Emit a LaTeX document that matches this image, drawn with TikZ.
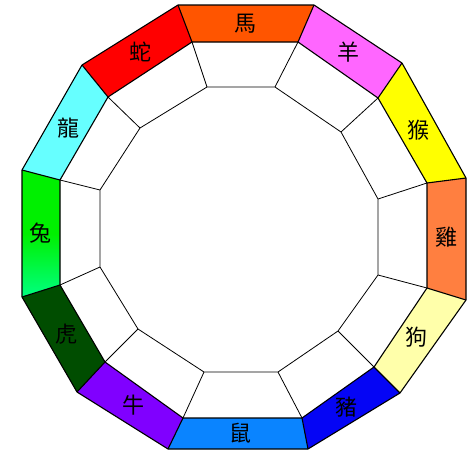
\documentclass[tikz,border=0pt]{standalone}
\usepackage{fontspec}
\newfontfamily\cjk{Noto Sans CJK TC}
\usetikzlibrary{calc}
\definecolor{cHorse}{HTML}{FF5500}
\definecolor{cGoat}{HTML}{FF66FF}
\definecolor{cMonkey}{HTML}{FFFF00}
\definecolor{cRooster}{HTML}{FF7F40}
\definecolor{cDog}{HTML}{FFFFAA}
\definecolor{cPig}{HTML}{0505F5}
\definecolor{cRat}{HTML}{0A84FF}
\definecolor{cOx}{HTML}{8000FF}
\definecolor{cTiger}{HTML}{004D00}
\definecolor{cRabbitA}{HTML}{00F000}
\definecolor{cRabbitB}{HTML}{00FF80}
\definecolor{cDragon}{HTML}{66FFFF}
\definecolor{cSnake}{HTML}{FF0000}
\begin{document}
\begin{tikzpicture}[x=1pt,y=-1pt,
  ring/.style={draw=black,line width=1.1pt,line join=round},
  spoke/.style={draw=black,line width=0.8pt},
  glyph/.style={font=\cjk\fontsize{22}{22}\selectfont,text=black,inner sep=0pt}]
\useasboundingbox (0,0) rectangle (472,456);
% outer polygon
\coordinate (O1) at (178,5);
\coordinate (O2) at (314,5);
\coordinate (O3) at (402,63);
\coordinate (O4) at (466,178);
\coordinate (O5) at (466,300);
\coordinate (O6) at (400,393);
\coordinate (O7) at (308,449);
\coordinate (O8) at (168,449);
\coordinate (O9) at (77,392);
\coordinate (O10) at (22,297);
\coordinate (O11) at (22,170);
\coordinate (O12) at (82,65);
% middle polygon
\coordinate (M1) at (192,42);
\coordinate (M2) at (298,42);
\coordinate (M3) at (378,98);
\coordinate (M4) at (427,183);
\coordinate (M5) at (427,288);
\coordinate (M6) at (374,367);
\coordinate (M7) at (302,418);
\coordinate (M8) at (183,418);
\coordinate (M9) at (105,362);
\coordinate (M10) at (60,285);
\coordinate (M11) at (60,180);
\coordinate (M12) at (108,97);
% inner polygon
\coordinate (I1) at (207,87);
\coordinate (I2) at (275,87);
\coordinate (I3) at (341,132);
\coordinate (I4) at (378,199);
\coordinate (I5) at (378,275);
\coordinate (I6) at (338,331);
\coordinate (I7) at (278,372);
\coordinate (I8) at (204,372);
\coordinate (I9) at (138,329);
\coordinate (I10) at (100,267);
\coordinate (I11) at (100,190);
\coordinate (I12) at (140,128);
% coloured segments
\foreach \a/\b/\col in {1/2/cHorse,2/3/cGoat,3/4/cMonkey,4/5/cRooster,5/6/cDog,6/7/cPig,7/8/cRat,8/9/cOx,9/10/cTiger,11/12/cDragon,12/1/cSnake}{
  \fill[\col] (O\a) -- (O\b) -- (M\b) -- (M\a) -- cycle;
}
\shade[top color=cRabbitA,bottom color=cRabbitB,middle color=cRabbitA] (O10) -- (O11) -- (M11) -- (M10) -- cycle;
% lines
\draw[ring] (O1) -- (O2) -- (O3) -- (O4) -- (O5) -- (O6) -- (O7) -- (O8) -- (O9) -- (O10) -- (O11) -- (O12) -- cycle;
\draw[ring] (M1) -- (M2) -- (M3) -- (M4) -- (M5) -- (M6) -- (M7) -- (M8) -- (M9) -- (M10) -- (M11) -- (M12) -- cycle;
\draw[spoke] (I1) -- (I2) -- (I3) -- (I4) -- (I5) -- (I6) -- (I7) -- (I8) -- (I9) -- (I10) -- (I11) -- (I12) -- cycle;
\foreach \i in {1,...,12}{
  \draw[ring] (O\i) -- (M\i);
  \draw[spoke] (M\i) -- (I\i);
}
% labels
\foreach \a/\b/\t in {1/2/馬,2/3/羊,3/4/猴,4/5/雞,5/6/狗,6/7/豬,7/8/鼠,8/9/牛,9/10/虎,10/11/兔,11/12/龍,12/1/蛇}{
  \node[glyph] (L\a) at (barycentric cs:O\a=1,O\b=1,M\a=1,M\b=1) {\t};
}
\end{tikzpicture}
\end{document}
